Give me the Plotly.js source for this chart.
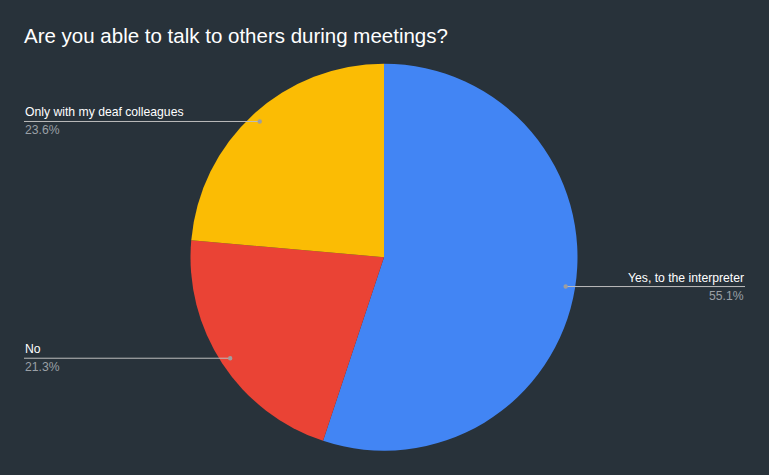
<!DOCTYPE html>
<html>
<head>
<meta charset="utf-8">
<script src="https://cdn.plot.ly/plotly-3.0.1.min.js"></script>
<style>html,body{margin:0;padding:0;background:#28323a;}</style>
</head>
<body>
<div id="chart" style="width:769px;height:475px;"></div>
<script>
var categories = ["Yes, to the interpreter", "No", "Only with my deaf colleagues"];
var values = [55.1, 21.3, 23.6];
var colors = ["#4285F4", "#EA4335", "#FBBC04"];

var W = 769, H = 475;
var cx = 384, cy = 257.2, R = 193.5;
var dotR = 0.951 * R;
var total = values.reduce(function(a, b){ return a + b; }, 0);

var shapes = [], annotations = [];
var cum = 0;
for (var i = 0; i < values.length; i++) {
  var mid = (cum + values[i] / 2) / total * 2 * Math.PI;
  cum += values[i];
  var px = cx + dotR * Math.sin(mid);
  var py = cy - dotR * Math.cos(mid);
  var right = px > cx;
  var endX = right ? 745 : 24;
  var pct = (values[i] / total * 100).toFixed(1) + '%';
  shapes.push({type: 'line', xref: 'paper', yref: 'paper',
    x0: px / W, x1: endX / W, y0: 1 - py / H, y1: 1 - py / H,
    line: {color: '#bdbdbd', width: 1}});
  shapes.push({type: 'circle', xref: 'paper', yref: 'paper',
    x0: (px - 2.2) / W, x1: (px + 2.2) / W, y0: 1 - (py - 2.2) / H, y1: 1 - (py + 2.2) / H,
    fillcolor: '#9e9e9e', line: {width: 0}});
  annotations.push({xref: 'paper', yref: 'paper', x: endX / W, y: 1 - (py - 1) / H,
    xanchor: right ? 'right' : 'left', yanchor: 'bottom', showarrow: false,
    text: categories[i], borderpad: 0,
    font: {family: 'Liberation Sans, Arial, sans-serif', size: 12.2, color: '#ffffff'}});
  annotations.push({xref: 'paper', yref: 'paper', x: endX / W, y: 1 - (py + 1) / H,
    xanchor: right ? 'right' : 'left', yanchor: 'top', showarrow: false,
    text: pct, borderpad: 0,
    font: {family: 'Liberation Sans, Arial, sans-serif', size: 12.2, color: '#9aa0a6'}});
}

var data = [{
  type: 'pie',
  labels: categories,
  values: values,
  marker: {colors: colors, line: {width: 0}},
  sort: false,
  direction: 'clockwise',
  rotation: 0,
  textinfo: 'none',
  hoverinfo: 'label+percent',
  domain: {x: [(cx - R) / W, (cx + R) / W], y: [1 - (cy + R) / H, 1 - (cy - R) / H]}
}];

var layout = {
  width: W, height: H,
  margin: {l: 0, r: 0, t: 0, b: 0},
  paper_bgcolor: '#28323a',
  plot_bgcolor: '#28323a',
  showlegend: false,
  title: {text: 'Are you able to talk to others during meetings?',
    x: 24 / W, xanchor: 'left', xref: 'paper', y: 1 - 36 / H, yanchor: 'middle',
    font: {family: 'Liberation Sans, Arial, sans-serif', size: 20.5, color: '#ffffff'}},
  shapes: shapes,
  annotations: annotations
};

Plotly.newPlot('chart', data, layout, {displayModeBar: false, staticPlot: true});
</script>
</body>
</html>
